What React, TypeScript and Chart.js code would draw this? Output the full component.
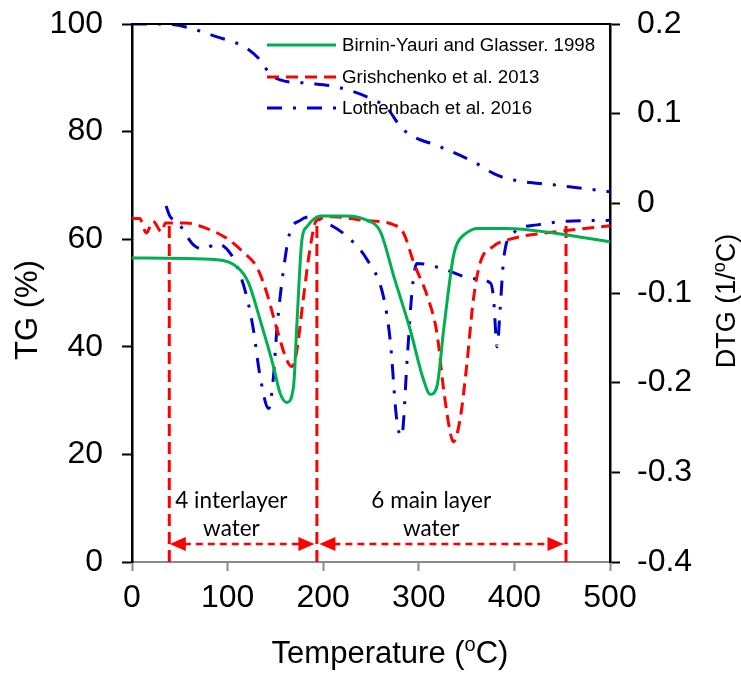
import React, { useEffect, useRef } from 'react';
import { Chart, registerables } from 'chart.js';
Chart.register(...registerables);

// ---- Data ----
// TG curve (left axis, %)
const tgTemp = [0, 29, 47, 89, 120, 134, 144, 155, 183, 214, 249, 267, 281, 291, 322, 357, 382, 399, 441, 492, 500];
const tgLothenbach = [100, 100, 99.8, 97.6, 95.5, 93.3, 90.8, 89.6, 89.0, 88.3, 86.2, 84.3, 80.9, 79.4, 77.2, 74.4, 71.9, 71.0, 70.1, 69.0, 68.8];

// DTG curves (right axis, 1/oC)
const birninTemp = [0, 89, 111, 122, 134, 148, 155, 162, 169, 172.5, 177.7, 183, 197, 225, 246, 260, 274, 291, 305, 312, 319, 326, 336, 340, 350, 361, 392, 441, 500];
const birninDTG = [-0.061, -0.063, -0.072, -0.089, -0.130, -0.182, -0.212, -0.222, -0.204, -0.134, -0.041, -0.026, -0.014, -0.014, -0.019, -0.032, -0.082, -0.141, -0.197, -0.213, -0.204, -0.141, -0.060, -0.045, -0.033, -0.028, -0.028, -0.033, -0.043];

const grishTemp = [0, 8, 15, 22, 31, 35, 43, 57, 78, 99, 116, 131, 141, 151, 162, 167, 172, 179, 186, 193, 211, 242, 274, 284, 295, 309, 319, 326, 333, 336, 343, 350, 357, 364, 378, 399, 441, 500];
const grishDTG = [-0.017, -0.017, -0.033, -0.020, -0.032, -0.022, -0.022, -0.022, -0.028, -0.039, -0.054, -0.072, -0.100, -0.138, -0.175, -0.182, -0.167, -0.108, -0.052, -0.019, -0.015, -0.019, -0.024, -0.033, -0.067, -0.104, -0.145, -0.208, -0.256, -0.266, -0.242, -0.182, -0.108, -0.067, -0.048, -0.039, -0.032, -0.025];

const lothTemp = [35.6, 40, 47, 64, 75, 89, 103, 110, 120, 127, 134, 143, 148, 151.5, 158, 165, 176, 186, 200, 225, 246, 263, 270, 277, 282, 288, 293, 298, 322, 357, 375, 378, 382, 385, 389, 399, 424, 455, 500];
const lothDTG = [-0.003, -0.015, -0.020, -0.046, -0.051, -0.045, -0.056, -0.071, -0.104, -0.141, -0.193, -0.229, -0.193, -0.141, -0.078, -0.033, -0.019, -0.015, -0.020, -0.037, -0.063, -0.104, -0.152, -0.242, -0.260, -0.171, -0.097, -0.067, -0.072, -0.084, -0.089, -0.104, -0.160, -0.119, -0.060, -0.033, -0.024, -0.020, -0.019];

// Marker lines (temperature, top DTG value)
const markerTemps = [39, 193.4, 454];
const markerTops = [-0.022, -0.019, -0.020];
const arrowDTG = -0.380;

// Annotations
const regionLabels = [['4 interlayer', 'water'], ['6 main layer', 'water']];
const regionLabelTemps = [104, 313];

const seriesNames = ['Birnin-Yauri and Glasser. 1998', 'Grishchenko et al. 2013', 'Lothenbach et al. 2016'];
const seriesColors = ['#00B050', '#FF0000', '#0000CC'];
const seriesDashes = [[], [12, 7], [15, 11, 3, 11]];

const xTicks = [0, 100, 200, 300, 400, 500];

const FONT = '"Liberation Sans", Arial, sans-serif';

function pts(xs: number[], ys: number[]) {
  return xs.map((x, i) => ({ x, y: ys[i] }));
}

function drawRich(ctx: CanvasRenderingContext2D, parts: { t: string; sup?: boolean }[], cx: number, baseY: number, size: number) {
  const supSize = Math.round(size * 0.65);
  let total = 0;
  const widths = parts.map((p) => {
    ctx.font = `${p.sup ? supSize : size}px ${FONT}`;
    const w = ctx.measureText(p.t).width;
    total += w;
    return w;
  });
  let x = cx - total / 2;
  ctx.textAlign = 'left';
  ctx.textBaseline = 'alphabetic';
  parts.forEach((p, i) => {
    ctx.font = `${p.sup ? supSize : size}px ${FONT}`;
    ctx.fillText(p.t, x, p.sup ? baseY - size * 0.38 : baseY);
    x += widths[i];
  });
}

const decorPlugin = {
  id: 'decor',
  afterDatasetsDraw(chart: any) {
    const { ctx, chartArea, scales } = chart;
    const { left, right, top } = chartArea;
    const x = scales.x;
    const y2 = scales.y2;
    ctx.save();
    // top border
    ctx.strokeStyle = '#000';
    ctx.lineWidth = 2;
    ctx.beginPath();
    ctx.moveTo(left - 1, top);
    ctx.lineTo(right + 1, top);
    ctx.stroke();

    // arrows
    const ay = y2.getPixelForValue(arrowDTG);
    const mx = markerTemps.map((t) => x.getPixelForValue(t));
    const drawArrow = (x1: number, x2: number) => {
      ctx.strokeStyle = '#FF0000';
      ctx.fillStyle = '#FF0000';
      ctx.lineWidth = 2.5;
      ctx.setLineDash([7, 5]);
      ctx.beginPath();
      ctx.moveTo(x1 + 14, ay);
      ctx.lineTo(x2 - 14, ay);
      ctx.stroke();
      ctx.setLineDash([]);
      ctx.beginPath();
      ctx.moveTo(x1, ay);
      ctx.lineTo(x1 + 16, ay - 7);
      ctx.lineTo(x1 + 16, ay + 7);
      ctx.closePath();
      ctx.fill();
      ctx.beginPath();
      ctx.moveTo(x2, ay);
      ctx.lineTo(x2 - 16, ay - 7);
      ctx.lineTo(x2 - 16, ay + 7);
      ctx.closePath();
      ctx.fill();
    };
    drawArrow(mx[0] + 0.5, mx[1] - 2.5);
    drawArrow(mx[1] + 2.5, mx[2] - 2.5);

    // region labels
    ctx.fillStyle = '#000';
    ctx.font = `22.5px Lato, "Open Sans", sans-serif`;
    ctx.textAlign = 'center';
    ctx.textBaseline = 'alphabetic';
    regionLabels.forEach((lines, i) => {
      const cx = x.getPixelForValue(regionLabelTemps[i]);
      ctx.fillText(lines[0], cx, ay - 36);
      ctx.fillText(lines[1], cx, ay - 8);
    });

    // legend
    const legX = 267;
    const legRows = [45, 77, 108];
    seriesNames.forEach((name, i) => {
      ctx.strokeStyle = seriesColors[i];
      ctx.lineWidth = 3;
      ctx.setLineDash(seriesDashes[i]);
      ctx.beginPath();
      ctx.moveTo(legX, legRows[i]);
      ctx.lineTo(legX + 69, legRows[i]);
      ctx.stroke();
      ctx.setLineDash([]);
      ctx.fillStyle = '#000';
      ctx.font = `18.7px ${FONT}`;
      ctx.textAlign = 'left';
      ctx.textBaseline = 'middle';
      ctx.fillText(name, legX + 75, legRows[i] + 1);
    });
    ctx.restore();
  },
  afterDraw(chart: any) {
    const { ctx } = chart;
    ctx.save();
    ctx.fillStyle = '#000';
    // x title
    drawRich(ctx, [{ t: 'Temperature (' }, { t: 'o', sup: true }, { t: 'C)' }], 390, 663, 31);
    // left title
    ctx.save();
    ctx.translate(26, 310);
    ctx.rotate(-Math.PI / 2);
    drawRich(ctx, [{ t: 'TG (%)' }], 0, 11, 31);
    ctx.restore();
    // right title
    ctx.save();
    ctx.translate(725, 301);
    ctx.rotate(-Math.PI / 2);
    drawRich(ctx, [{ t: 'DTG (1/' }, { t: 'o', sup: true }, { t: 'C)' }], 0, 10, 27);
    ctx.restore();
    ctx.restore();
  },
};

const zeroPad = (s: any) => {
  s.paddingTop = 0;
  s.paddingBottom = 0;
  s.paddingLeft = 0;
  s.paddingRight = 0;
};

export default function App() {
  const ref = useRef<HTMLCanvasElement | null>(null);
  useEffect(() => {
    if (!ref.current) return;
    const line = (label: string, data: any[], color: string, dash: number[], axis: string, extra: any = {}) => ({
      label,
      data,
      borderColor: color,
      backgroundColor: color,
      borderWidth: 3,
      borderDash: dash,
      pointRadius: 0,
      fill: false,
      yAxisID: axis,
      cubicInterpolationMode: 'monotone',
      ...extra,
    });
    const markerSets = markerTemps.map((t, i) =>
      line('marker' + i, [{ x: t, y: -0.4 }, { x: t, y: markerTops[i] }], '#FF0000', [12, 6], 'y2', { cubicInterpolationMode: 'default', tension: 0 })
    );
    const chart = new Chart(ref.current, {
      type: 'line',
      data: {
        datasets: [
          line(seriesNames[0], pts(birninTemp, birninDTG), seriesColors[0], seriesDashes[0], 'y2'),
          line(seriesNames[1], pts(grishTemp, grishDTG), seriesColors[1], seriesDashes[1], 'y2'),
          line(seriesNames[2], pts(lothTemp, lothDTG), seriesColors[2], seriesDashes[2], 'y2'),
          line(seriesNames[2] + ' TG', pts(tgTemp, tgLothenbach), seriesColors[2], seriesDashes[2], 'y'),
          ...markerSets,
        ],
      },
      options: {
        responsive: false,
        animation: false,
        devicePixelRatio: 1,
        layout: { padding: { top: 24, left: 0, right: 0, bottom: 0 } },
        plugins: { legend: { display: false }, tooltip: { enabled: false } },
        scales: {
          x: {
            type: 'linear',
            position: 'bottom',
            min: 0,
            max: 500,
            afterBuildTicks: (s: any) => {
              s.ticks = xTicks.map((v) => ({ value: v }));
            },
            ticks: { color: '#000', font: { family: FONT, size: 32 }, padding: 8, maxRotation: 0 },
            grid: { display: true, drawOnChartArea: false, drawTicks: true, tickLength: 9, tickColor: '#8a8a8a', tickWidth: 2 },
            border: { display: true, color: '#8a8a8a', width: 2 },
            afterFit: (s: any) => {
              s.height = 113;
              zeroPad(s);
            },
          },
          y: {
            position: 'left',
            min: 0,
            max: 100,
            ticks: { stepSize: 20, color: '#000', font: { family: FONT, size: 32 }, padding: 19 },
            grid: { display: true, drawOnChartArea: false, drawTicks: true, tickLength: 10, tickColor: '#000', tickWidth: 2 },
            border: { display: true, color: '#000', width: 2.5 },
            afterFit: (s: any) => {
              s.width = 132;
              zeroPad(s);
            },
          },
          y2: {
            position: 'right',
            min: -0.4,
            max: 0.2,
            ticks: {
              stepSize: 0.1,
              color: '#000',
              font: { family: FONT, size: 32 },
              padding: 17,
              callback: (v: any) => (Math.abs(v) < 1e-9 ? '0' : Number(v).toFixed(1)),
            },
            grid: { display: true, drawOnChartArea: false, drawTicks: true, tickLength: 10, tickColor: '#000', tickWidth: 2 },
            border: { display: true, color: '#000', width: 2.5 },
            afterFit: (s: any) => {
              s.width = 131;
              zeroPad(s);
            },
          },
        },
      } as any,
      plugins: [decorPlugin],
    });
    return () => chart.destroy();
  }, []);
  return (
    <div style={{ position: 'absolute', left: 0, top: 0, width: 741, height: 675, background: '#fff' }}>
      <canvas ref={ref} width={741} height={675} style={{ display: 'block' }} />
    </div>
  );
}
